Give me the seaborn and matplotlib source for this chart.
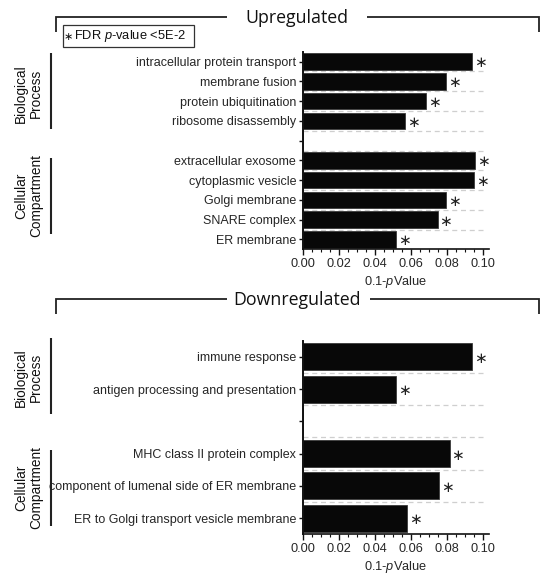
import matplotlib
matplotlib.use("Agg")
import matplotlib.pyplot as plt
from matplotlib.lines import Line2D
from matplotlib.patches import Rectangle
from matplotlib.ticker import MultipleLocator
import seaborn as sns
import pandas as pd

# ---------------- data ----------------
up_terms = ["intracellular protein transport", "membrane fusion", "protein ubiquitination",
            "ribosome disassembly", "", "extracellular exosome", "cytoplasmic vesicle",
            "Golgi membrane", "SNARE complex", "ER membrane"]
up_values = [0.0940, 0.0797, 0.0687, 0.0570, 0.0, 0.0955, 0.0949, 0.0797, 0.0748, 0.0518]
up_sig = [True, True, True, True, False, True, True, True, True, True]

down_terms = ["immune response", "antigen processing and presentation", "",
              "MHC class II protein complex", "component of lumenal side of ER membrane",
              "ER to Golgi transport vesicle membrane"]
down_values = [0.0940, 0.0518, 0.0, 0.0815, 0.0757, 0.0578]
down_sig = [True, True, False, True, True, True]

xticks = [0.00, 0.02, 0.04, 0.06, 0.08, 0.10]
xtick_labels = ["0.00", "0.02", "0.04", "0.06", "0.08", "0.10"]

W, H = 541, 578
sns.set_theme(style="white")
plt.rcParams["font.family"] = ["Liberation Sans", "DejaVu Sans"]
plt.rcParams["mathtext.fontset"] = "custom"
plt.rcParams["mathtext.rm"] = "Liberation Sans"
plt.rcParams["mathtext.it"] = "Liberation Sans:italic"

fig = plt.figure(figsize=(W / 100, H / 100), dpi=100)

def fx(x):
    return x / W

def fy(y):
    return 1 - y / H

def make_panel(rect, terms, values, sig):
    ax = fig.add_axes(rect)
    df = pd.DataFrame({"term": terms, "value": values})
    n = len(terms)
    for i in range(n - 1):
        ax.axhline(i + 0.5, xmax=0.985, color="#cfcfcf", lw=0.9, ls=(0, (4, 3)), zorder=0)
    sns.barplot(data=df, x="value", y="term", order=terms, orient="h",
                color="#080808", saturation=1, width=0.84, edgecolor="#3a3a3a",
                linewidth=0.6, ax=ax, zorder=2)
    ax.set_xlim(0, 0.1035)
    ax.set_ylim(n - 0.5, -0.5)
    ax.set_xticks(xticks)
    ax.set_xticklabels(xtick_labels, fontsize=9.2)
    ax.xaxis.set_minor_locator(MultipleLocator(0.005))
    ax.set_yticks(range(n))
    ax.set_yticklabels(terms, fontsize=9)
    ax.tick_params(axis="y", which="major", left=True, length=3, width=1, pad=1.5, color="#111")
    ax.tick_params(axis="x", which="major", bottom=True, length=4, width=1, pad=2, color="#111")
    ax.tick_params(axis="x", which="minor", bottom=True, length=2, width=0.8, color="#111")
    for s in ["top", "right"]:
        ax.spines[s].set_visible(False)
    ax.spines["left"].set_linewidth(1.4)
    ax.spines["bottom"].set_linewidth(1.2)
    ax.spines["left"].set_color("#111")
    ax.spines["bottom"].set_color("#111")
    ax.set_ylabel("")
    ax.set_xlabel("0.1-$\\it{p}$Value", fontsize=9.2, labelpad=3)
    for i, (v, s) in enumerate(zip(values, sig)):
        if s:
            ax.annotate("\u2217", xy=(v, i), xytext=(6, -1), textcoords="offset points",
                        ha="center", va="center", fontsize=11, family="DejaVu Sans",
                        color="#222")
    return ax

ax1 = make_panel([fx(302.5), fy(249.3), (489.3 - 302.5) / W, (249.3 - 51.7) / H],
                 up_terms, up_values, up_sig)
ax2 = make_panel([fx(302.5), fy(534.3), (489.3 - 302.5) / W, (534.3 - 340.7) / H],
                 down_terms, down_values, down_sig)

def fline(xs, ys, lw=1.3, color="#222"):
    fig.add_artist(Line2D([fx(x) for x in xs], [fy(y) for y in ys], lw=lw, color=color,
                          solid_capstyle="butt", solid_joinstyle="miter"))

# brackets with titles
fline([55.7, 55.7, 226.7], [32.3, 16.5, 16.5])
fline([366.7, 538.7, 538.7], [16.5, 16.5, 31.7])
fig.text(fx(297), fy(18), "Upregulated", ha="center", va="center", fontsize=12.8,
         family="Open Sans", color="#111")

fline([55.7, 55.7, 226.7], [314, 299.3, 299.3])
fline([369.5, 538.7, 538.7], [299.3, 299.3, 314])
fig.text(fx(297), fy(300), "Downregulated", ha="center", va="center", fontsize=12.8,
         family="Open Sans", color="#111")

# group lines & labels
fline([51, 51], [53.3, 129.3], lw=1.5)
fline([51, 51], [158.3, 234.3], lw=1.5)
fline([51, 51], [338.3, 414], lw=1.5)
fline([51, 51], [450, 526], lw=1.5)
for y, lab in [(93.3, "Biological\nProcess"), (195.7, "Cellular\nCompartment"),
               (377.5, "Biological\nProcess"), (487.5, "Cellular\nCompartment")]:
    fig.text(fx(28.5), fy(y), lab, rotation=90, ha="center", va="center", fontsize=9.8,
             linespacing=1.1, color="#111")

# legend box
fig.add_artist(Rectangle((fx(63.3), fy(46.7)), (194.3 - 63.3) / W, (46.7 - 25) / H,
                         transform=fig.transFigure, fc="white", ec="#333", lw=0.9))
fig.text(fx(68.5), fy(37), "\u2217", ha="center", va="center", fontsize=8,
         family="DejaVu Sans", color="#111")
fig.text(fx(74.5), fy(36), "FDR $\\it{p}$-value <5E-2", ha="left", va="center",
         fontsize=9.3, color="#111")

fig.savefig("out.png", dpi=100)
